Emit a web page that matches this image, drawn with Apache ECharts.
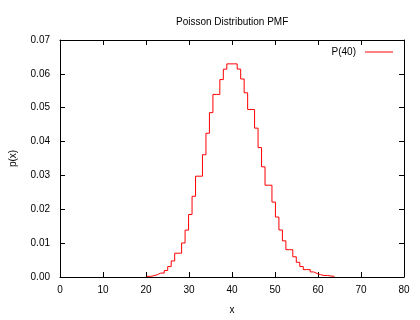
<!DOCTYPE html>
<html>
<head>
<meta charset="utf-8">
<script src="https://cdn.jsdelivr.net/npm/echarts@6/dist/echarts.min.js"></script>
<style>
  html, body { margin: 0; padding: 0; background: #fff; }
  #main { width: 420px; height: 320px; }
</style>
</head>
<body>
<div id="main"></div>
<script>
// sample positions along x (step edges) and the PMF value held from each one
var xs = [20.20, 21.01, 21.82, 22.63, 23.43, 24.24, 25.05, 25.86, 26.67, 27.47,
          28.28, 29.09, 29.90, 30.71, 31.52, 32.32, 33.13, 33.94, 34.75, 35.56,
          36.36, 37.17, 37.98, 38.79, 39.60, 40.40, 41.21, 42.02, 42.83, 43.64,
          44.44, 45.25, 46.06, 46.87, 47.68, 48.48, 49.29, 50.10, 50.91, 51.72,
          52.53, 53.33, 54.14, 54.95, 55.76, 56.57, 57.37, 58.18, 58.99, 59.80,
          60.61, 61.41, 62.22, 63.03, 63.84];
var ps = [0.00019, 0.00037, 0.00067, 0.00116, 0.00116, 0.00193, 0.00308, 0.00474, 0.00703, 0.00703,
          0.01004, 0.01385, 0.01847, 0.02383, 0.02978, 0.02978, 0.03610, 0.04247, 0.04854, 0.05393,
          0.05393, 0.05831, 0.06138, 0.06295, 0.06295, 0.06295, 0.06141, 0.05849, 0.05441, 0.04946,
          0.04946, 0.04397, 0.03823, 0.03254, 0.02711, 0.02711, 0.02213, 0.01771, 0.01389, 0.01068,
          0.00806, 0.00806, 0.00597, 0.00434, 0.00310, 0.00218, 0.00218, 0.00150, 0.00102, 0.00068,
          0.00045, 0.00045, 0.00029, 0.00018, 0.00011];
var seriesName = 'P(40)';

var font = 'Liberation Sans, Arial, sans-serif';
var data = xs.map(function (x, i) { return [x, ps[i]]; });

var tick = { show: true, inside: true, length: 5, lineStyle: { color: '#000' } };
var line = { show: true, onZero: false, lineStyle: { color: '#000', width: 1 } };

var option = {
    animation: false,
    backgroundColor: '#fff',
    textStyle: { fontFamily: font },
    title: {
        text: 'Poisson Distribution PMF',
        left: 171,
        top: 12,
        textStyle: { fontFamily: font, fontSize: 10, fontWeight: 'normal', color: '#000' }
    },
    legend: {
        data: [seriesName],
        right: 22,
        top: 42,
        align: 'right',
        icon: 'rect',
        itemWidth: 28,
        itemHeight: 1,
        textStyle: { fontFamily: font, fontSize: 10, color: '#000', padding: [0, 4, 0, 0] }
    },
    grid: { left: 59, right: 16, top: 40, bottom: 42 },
    xAxis: [{
        type: 'value',
        min: 0, max: 80, interval: 10,
        name: 'x',
        nameLocation: 'middle',
        nameGap: 28,
        nameTextStyle: { fontFamily: font, fontSize: 10, color: '#000' },
        axisLine: line,
        axisTick: tick,
        axisLabel: { color: '#000', fontSize: 10, fontFamily: font, margin: 8 },
        splitLine: { show: false }
    }, {
        type: 'value',
        position: 'top',
        min: 0, max: 80, interval: 10,
        axisLine: line,
        axisTick: tick,
        axisLabel: { show: false },
        splitLine: { show: false }
    }],
    yAxis: [{
        type: 'value',
        min: 0, max: 0.07, interval: 0.01,
        name: 'p(x)',
        nameLocation: 'middle',
        nameGap: 42,
        nameTextStyle: { fontFamily: font, fontSize: 10, color: '#000' },
        axisLine: line,
        axisTick: tick,
        axisLabel: {
            color: '#000', fontSize: 10, fontFamily: font, margin: 10,
            formatter: function (v) { return v.toFixed(2); }
        },
        splitLine: { show: false }
    }, {
        type: 'value',
        position: 'right',
        min: 0, max: 0.07, interval: 0.01,
        axisLine: line,
        axisTick: tick,
        axisLabel: { show: false },
        splitLine: { show: false }
    }],
    series: [{
        name: seriesName,
        type: 'line',
        step: 'end',
        data: data,
        symbol: 'none',
        color: '#ff0000',
        lineStyle: { color: '#ff0000', width: 1 },
        itemStyle: { color: '#ff0000' }
    }]
};

var chart = echarts.init(document.getElementById('main'), null, { renderer: 'canvas' });
chart.setOption(option);
</script>
</body>
</html>
